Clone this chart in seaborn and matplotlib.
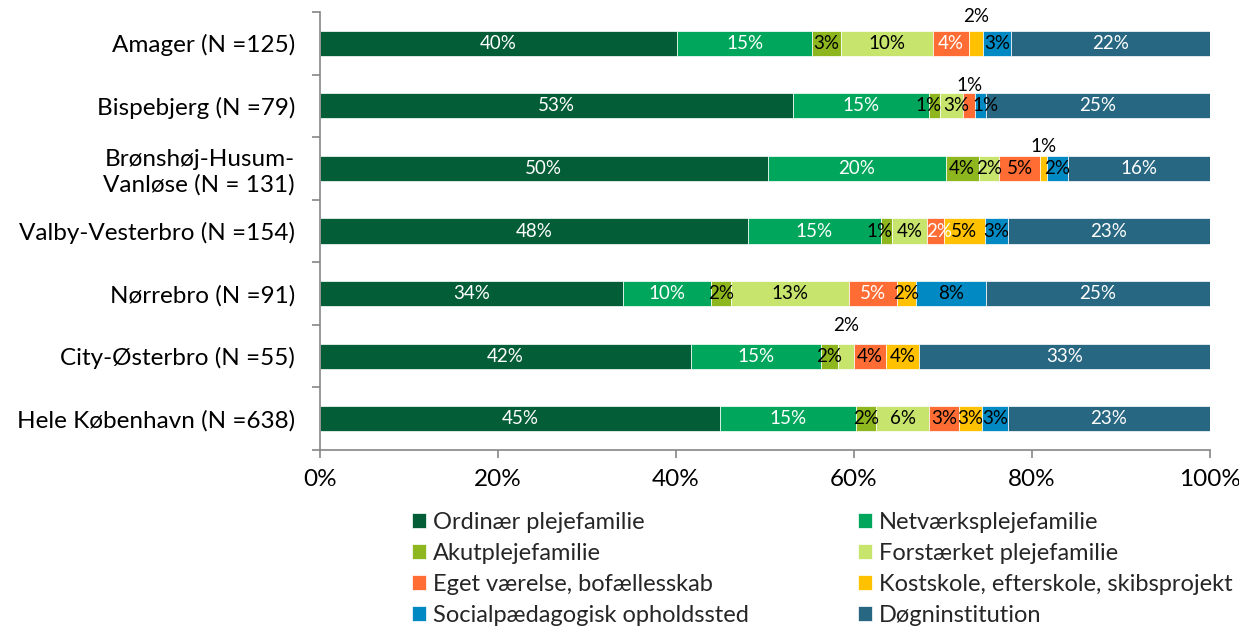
import matplotlib
matplotlib.use("Agg")
import numpy as np
import matplotlib.pyplot as plt
import seaborn as sns

# regions (rows, top to bottom)
regions = ["Amager (N =125)", "Bispebjerg (N =79)", "Brønshøj-Husum-\nVanløse (N = 131)",
           "Valby-Vesterbro (N =154)", "Nørrebro (N =91)", "City-Østerbro (N =55)",
           "Hele København (N =638)"]

categories = ["Ordinær plejefamilie", "Netværksplejefamilie", "Akutplejefamilie",
              "Forstærket plejefamilie", "Eget værelse, bofællesskab",
              "Kostskole, efterskole, skibsprojekt", "Socialpædagogisk opholdssted",
              "Døgninstitution"]

# shares in % per region
ordinaer = [40.1, 53.1, 50.3, 48.1, 34.1, 41.7, 44.9]
netvaerk = [15.2, 15.3, 20.0, 14.9, 9.8, 14.6, 15.3]
akut = [3.2, 1.3, 3.7, 1.3, 2.3, 1.9, 2.3]
forstaerket = [10.4, 2.6, 2.3, 3.9, 13.2, 1.8, 5.9]
eget = [4.0, 1.3, 4.6, 1.9, 5.4, 3.6, 3.4]
kostskole = [1.6, 0.0, 0.8, 4.6, 2.2, 3.7, 2.6]
social = [3.1, 1.2, 2.3, 2.6, 7.8, 0.0, 2.9]
doegn = [22.4, 25.2, 16.0, 22.7, 25.2, 32.7, 22.7]

series = [ordinaer, netvaerk, akut, forstaerket, eget, kostskole, social, doegn]
colors = ["#035d36", "#00a65b", "#8db61f", "#c7e46c", "#ff6d34", "#ffc100", "#0089c2", "#276782"]
label_colors = ["white", "white", "black", "black", None, "black", "black", "white"]
eget_label_colors = ["white", "black", "black", "white", "white", "black", "black"]

# labels moved above the bar: (row, category) -> offset in points
moved = {(0, 5): 19, (1, 4): 15, (2, 5): 16, (5, 3): 22}
# small sideways nudges for crowded labels, in points
nudge = {(1, 2): -4, (1, 3): 3, (1, 6): 4, (3, 2): -5, (3, 3): 0, (3, 4): 3}

sns.set_theme(style="white")
plt.rcParams["font.family"] = ["Lato", "DejaVu Sans"]

fig = plt.figure(figsize=(12.39, 6.26), dpi=100)
ax = fig.add_axes([320 / 1239, 1 - 450 / 626, 890 / 1239, 438 / 626])

left = np.zeros(len(regions))
for cat, vals, color in zip(categories, series, colors):
    sns.barplot(x=vals, y=regions, color=color, left=left.copy(), width=0.4,
                orient="h", ax=ax, edgecolor="white", linewidth=0.5, label=cat,
                saturation=1)
    left += np.array(vals)

for ci, (cont, vals) in enumerate(zip(ax.containers, series)):
    labels = []
    for ri, v in enumerate(vals):
        if v <= 0 or (ri, ci) in moved:
            labels.append("")
        else:
            labels.append(f"{round(v):.0f}%")
    texts = ax.bar_label(cont, labels=labels, label_type="center", fontsize=13.5)
    for ri, t in enumerate(texts):
        t.set_color(eget_label_colors[ri] if ci == 4 else label_colors[ci])
        if (ri, ci) in nudge:
            t.xyann = (nudge[(ri, ci)], 0)
    for (ri, cj), off in moved.items():
        if cj == ci:
            p = cont.patches[ri]
            ax.annotate(f"{round(vals[ri]):.0f}%", (p.get_x() + p.get_width() / 2, ri),
                        xytext=(0, off), textcoords="offset points",
                        ha="center", va="center", fontsize=13.5, color="black")

ax.set_xlim(0, 100)
ax.set_ylim(len(regions) - 0.5, -0.5)
ax.set_xticks([0, 20, 40, 60, 80, 100])
ax.set_xticklabels([f"{t}%" for t in [0, 20, 40, 60, 80, 100]])
ax.set_xlabel("")
ax.set_ylabel("")
ax.set_yticks(np.arange(-0.5, len(regions), 1.0), minor=True)
ax.tick_params(axis="y", which="major", length=0, pad=18, labelsize=17.5, colors="black")
ax.tick_params(axis="y", which="minor", length=6, width=1.2, color="#868686", direction="out", left=True)
ax.tick_params(axis="x", length=6, width=1.2, color="#868686", direction="out", bottom=True,
               pad=8, labelsize=17.5, labelcolor="black")
for s in ["top", "right"]:
    ax.spines[s].set_visible(False)
for s in ["left", "bottom"]:
    ax.spines[s].set_color("#868686")
    ax.spines[s].set_linewidth(1.2)
if ax.get_legend():
    ax.get_legend().remove()

handles, labs = ax.get_legend_handles_labels()
order = [0, 2, 4, 6, 1, 3, 5, 7]
fig.legend([handles[i] for i in order], [labs[i] for i in order], ncol=2,
           loc="upper left", bbox_to_anchor=(400 / 1239, 1 - 500 / 626),
           frameon=False, fontsize=17, handlelength=0.6, handleheight=0.6,
           handletextpad=0.3, labelspacing=0.43, columnspacing=4.6, borderpad=0)

fig.savefig("out.png", dpi=100)
